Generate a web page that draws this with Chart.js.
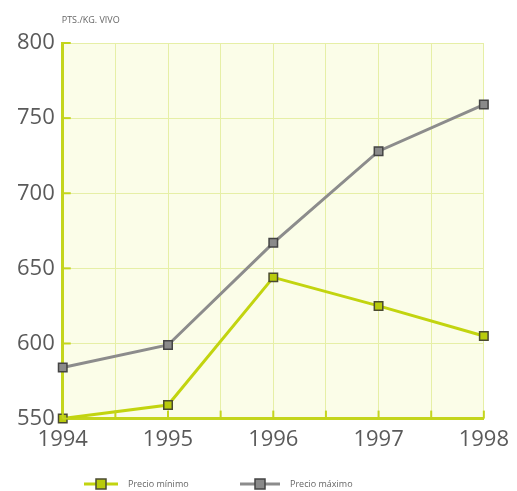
<!DOCTYPE html>
<html>
<head>
<meta charset="utf-8">
<script src="https://cdn.jsdelivr.net/npm/chart.js@4/dist/chart.umd.min.js"></script>
<style>
    html, body { margin: 0; padding: 0; background: #fff; }
    #wrap { width: 517px; height: 491px; }
</style>
</head>
<body>
<div id="wrap"><canvas id="precioChart" width="517" height="491"></canvas></div>
<script>
// años y precios (pts/kg vivo)
var years = [1994, 1995, 1996, 1997, 1998];
var precioMinimo = [550, 559, 644, 625, 605];
var precioMaximo = [584, 599, 667, 728, 759];
var yTicks = [550, 600, 650, 700, 750, 800];

var axisGreen = '#c4d51c';
var gridGreen = '#e6efa6';

function toPoints(values){
    return values.map(function(v, i){ return {x: years[i], y: v}; });
}

// fondo amarillo claro del área de trazado + marcas interiores de los ejes
var plotDecor = {
    id: 'plotDecor',
    beforeDraw: function(chart){
        var a = chart.chartArea, c = chart.ctx;
        c.save();
        c.fillStyle = '#fbfde8';
        c.fillRect(a.left, a.top, a.right - a.left, a.bottom - a.top);
        c.restore();
    },
    afterDatasetsDraw: function(chart){
        var c = chart.ctx, a = chart.chartArea;
        var xs = chart.scales.x, ys = chart.scales.y;
        c.save();
        c.strokeStyle = axisGreen;
        c.lineWidth = 2;
        ys.ticks.forEach(function(t){
            var py = ys.getPixelForValue(t.value);
            c.beginPath(); c.moveTo(a.left, py); c.lineTo(a.left + 8, py); c.stroke();
        });
        xs.ticks.forEach(function(t){
            var px = xs.getPixelForValue(t.value);
            c.beginPath(); c.moveTo(px, a.bottom); c.lineTo(px, a.bottom - 8); c.stroke();
        });
        c.restore();
    },
    afterDraw: function(chart){
        var c = chart.ctx, a = chart.chartArea;
        c.save();
        // unidad del eje
        c.fillStyle = '#666';
        c.font = '9px "Open Sans"';
        c.textBaseline = 'middle';
        c.textAlign = 'left';
        c.fillText('PTS./KG. VIVO', a.left - 1, 20);
        // leyenda: trazo + cuadrado
        var lx = [84, 240];
        var lineLen = [34, 40];
        var ly = 484;
        chart.data.datasets.forEach(function(ds, i){
            var x0 = lx[i];
            var mid = x0 + lineLen[i] / 2;
            c.strokeStyle = ds.borderColor;
            c.lineWidth = 3;
            c.beginPath(); c.moveTo(x0, ly); c.lineTo(x0 + lineLen[i], ly); c.stroke();
            c.fillStyle = ds.pointBackgroundColor;
            c.strokeStyle = ds.pointBorderColor;
            c.lineWidth = 1.5;
            c.fillRect(mid - 5, ly - 5, 10, 10);
            c.strokeRect(mid - 5, ly - 5, 10, 10);
            c.fillStyle = '#666';
            c.fillText(ds.label, x0 + lineLen[i] + 10, ly);
        });
        c.restore();
    }
};

var ctx = document.getElementById('precioChart').getContext('2d');
var myChart = new Chart(ctx, {
    type: 'line',
    data: {
        datasets: [{
            label: 'Precio mínimo',
            data: toPoints(precioMinimo),
            borderColor: '#c2d40f',
            borderWidth: 3,
            pointStyle: 'rect',
            pointRadius: 6,
            pointBackgroundColor: '#b9cb0c',
            pointBorderColor: '#4a4a30',
            pointBorderWidth: 1.5,
            tension: 0
        }, {
            label: 'Precio máximo',
            data: toPoints(precioMaximo),
            borderColor: '#8c8c8c',
            borderWidth: 3,
            pointStyle: 'rect',
            pointRadius: 6,
            pointBackgroundColor: '#8a8a8a',
            pointBorderColor: '#444',
            pointBorderWidth: 1.5,
            tension: 0
        }]
    },
    options: {
        responsive: false,
        animation: false,
        clip: false,
        layout: {
            padding: {left: 9, right: 7, top: 43, bottom: 30}
        },
        scales: {
            x: {
                type: 'linear',
                min: years[0],
                max: years[years.length - 1],
                ticks: {
                    stepSize: 0.5,
                    autoSkip: false,
                    color: '#5a5a5a',
                    font: {family: 'Open Sans', size: 22},
                    padding: 8,
                    maxRotation: 0,
                    callback: function(v){ return Number.isInteger(v) ? String(v) : ''; }
                },
                grid: {color: gridGreen, lineWidth: 1, drawTicks: false},
                border: {color: axisGreen, width: 3}
            },
            y: {
                min: yTicks[0],
                max: yTicks[yTicks.length - 1],
                afterBuildTicks: function(axis){
                    axis.ticks = yTicks.map(function(v){ return {value: v}; });
                },
                ticks: {
                    color: '#5a5a5a',
                    font: {family: 'Open Sans', size: 22},
                    padding: 8
                },
                grid: {color: gridGreen, lineWidth: 1, drawTicks: false},
                border: {color: axisGreen, width: 3}
            }
        },
        plugins: {
            legend: {display: false},
            tooltip: {enabled: false}
        }
    },
    plugins: [plotDecor]
});
</script>
</body>
</html>
